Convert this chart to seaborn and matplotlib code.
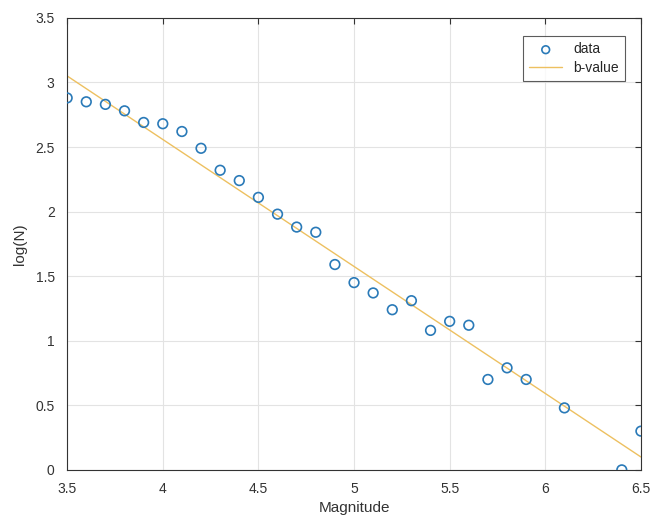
import matplotlib
matplotlib.use("Agg")
import matplotlib.pyplot as plt
import seaborn as sns
import numpy as np
import pandas as pd

magnitude = [3.5, 3.6, 3.7, 3.8, 3.9, 4.0, 4.1, 4.2, 4.3, 4.4, 4.5, 4.6, 4.7, 4.8,
             4.9, 5.0, 5.1, 5.2, 5.3, 5.4, 5.5, 5.6, 5.7, 5.8, 5.9, 6.1, 6.4, 6.5]
logN = [2.88, 2.85, 2.83, 2.78, 2.69, 2.68, 2.62, 2.49, 2.32, 2.24, 2.11, 1.98, 1.88, 1.84,
        1.59, 1.45, 1.37, 1.24, 1.31, 1.08, 1.15, 1.12, 0.70, 0.79, 0.70, 0.48, 0.00, 0.30]
fit_x = [3.5, 6.5]
fit_y = [3.05, 0.10]

sns.set_style("white")
plt.rcParams['font.family'] = ['Liberation Sans', 'DejaVu Sans']

fig = plt.figure(figsize=(6.52, 5.25), dpi=100)
ax = fig.add_axes([0.103, 0.105, 0.880, 0.861])

df = pd.DataFrame({"Magnitude": magnitude, "logN": logN})
fit = pd.DataFrame({"x": fit_x, "y": fit_y})

sns.scatterplot(data=df, x="Magnitude", y="logN", ax=ax, marker="o",
                facecolor="none", edgecolor="#2A7AB8", linewidth=1.2, s=48,
                label="data", zorder=3)
sns.lineplot(data=fit, x="x", y="y", ax=ax, color="#EDC060", linewidth=1.0,
             label="b-value", zorder=2)

ax.set_xlim(3.5, 6.5)
ax.set_ylim(0, 3.5)
ax.set_xticks([3.5, 4, 4.5, 5, 5.5, 6, 6.5])
ax.set_xticklabels(["3.5", "4", "4.5", "5", "5.5", "6", "6.5"])
ax.set_yticks([0, 0.5, 1, 1.5, 2, 2.5, 3, 3.5])
ax.set_yticklabels(["0", "0.5", "1", "1.5", "2", "2.5", "3", "3.5"])
ax.grid(True, color="#E3E3E3", linewidth=0.8)
ax.set_axisbelow(True)
for sp in ax.spines.values():
    sp.set_visible(True)
    sp.set_color("#333333")
    sp.set_linewidth(0.8)
ax.tick_params(direction="in", length=4, width=0.8, colors="#333333",
               labelsize=10, top=True, right=True, labeltop=False, labelright=False,
               labelcolor="#333333")
ax.tick_params(axis="x", pad=9)
ax.tick_params(axis="y", pad=9)
ax.set_xlabel("Magnitude", fontsize=11, color="#333333", labelpad=3)
ax.set_ylabel("log(N)", fontsize=11, color="#333333", labelpad=6)

leg = ax.legend(loc="upper right", fontsize=10, frameon=True, fancybox=False,
                edgecolor="#333333", borderpad=0.45, handlelength=2.4,
                bbox_to_anchor=(0.985, 0.975), labelspacing=0.35, markerscale=0.8)
leg.get_frame().set_linewidth(0.8)

fig.savefig("out.png", dpi=100)
